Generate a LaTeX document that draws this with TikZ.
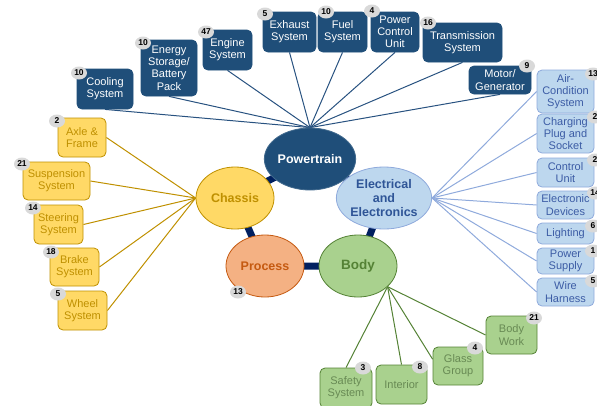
\documentclass[tikz,border=0pt]{standalone}
\usepackage{fontspec}
\setmainfont{Liberation Sans}
\usetikzlibrary{shapes.geometric,backgrounds}

\definecolor{ptblue}{RGB}{31,78,121}
\definecolor{ptline}{RGB}{40,82,128}
\definecolor{ringcol}{RGB}{0,32,96}
\definecolor{eefill}{RGB}{189,215,238}
\definecolor{eedraw}{RGB}{143,170,220}
\definecolor{eetext}{RGB}{47,85,151}
\definecolor{eeleaftext}{RGB}{60,92,165}
\definecolor{chfill}{RGB}{255,217,102}
\definecolor{chdraw}{RGB}{191,144,0}
\definecolor{chtext}{RGB}{191,144,0}
\definecolor{prfill}{RGB}{244,177,131}
\definecolor{prdraw}{RGB}{197,90,17}
\definecolor{prtext}{RGB}{197,90,17}
\definecolor{bdfill}{RGB}{169,209,142}
\definecolor{bddraw}{RGB}{84,130,53}
\definecolor{bdtext}{RGB}{84,130,53}
\definecolor{bdleaftext}{RGB}{104,138,84}
\definecolor{badgegray}{RGB}{217,217,217}

\begin{document}
\begin{tikzpicture}[x=1pt,y=-1pt,
  sz/.style 2 args={minimum width=#1pt, minimum height=#2pt},
  leaf/.style={rounded corners=5pt, align=center, inner sep=0pt,
    font=\fontsize{11}{12.2}\selectfont, line width=0.8pt},
  ptleaf/.style={leaf, fill=ptblue, draw=ptblue, text=white},
  eeleaf/.style={leaf, fill=eefill, draw=eedraw, text=eeleaftext},
  chleaf/.style={leaf, fill=chfill, draw=chdraw, text=chtext},
  bdleaf/.style={leaf, fill=bdfill, draw=bddraw, text=bdleaftext},
  hub/.style={ellipse, minimum width=78pt, minimum height=62pt, inner sep=0pt,
    align=center, font=\bfseries\fontsize{12.5}{14}\selectfont, line width=0.8pt},
  badge/.style={ellipse, fill=badgegray, minimum width=16pt, minimum height=13pt,
    inner sep=0pt, font=\bfseries\fontsize{8.5}{9}\selectfont},
  ring/.style={draw=ringcol, line width=7pt},
  ptlink/.style={draw=ptline, line width=1pt},
  eelink/.style={draw=eedraw, line width=1pt},
  chlink/.style={draw=chdraw, line width=1pt},
  bdlink/.style={draw=bddraw, line width=1pt},
]
\useasboundingbox (0,0) rectangle (597,405);

% central categories
\node[hub, fill=ptblue, draw=ptblue!85!white, text=white] (pt) at (310,159) {Powertrain};
\node[hub, fill=eefill, draw=eedraw, text=eetext] (ee) at (384,198) {Electrical\\and\\Electronics};
\node[hub, fill=chfill, draw=chdraw, text=chtext] (ch) at (235,198) {Chassis};
\node[hub, fill=prfill, draw=prdraw, text=prtext] (pr) at (265,266) {Process};
\node[hub, fill=bdfill, draw=bddraw, text=bdtext, font=\bfseries\fontsize{13.5}{15}\selectfont] (bd) at (358,266) {Body};

% powertrain subsystems
\node[ptleaf, sz={56}{40}] (cool) at (105,89) {Cooling\\System};
\node[ptleaf, sz={56}{56}] (energy) at (169,68) {Energy\\Storage/\\Battery\\Pack};
\node[ptleaf, sz={49}{40}] (engine) at (227.5,50) {Engine\\System};
\node[ptleaf, sz={53}{40}] (exhaust) at (289.5,32) {Exhaust\\System};
\node[ptleaf, sz={49}{40}] (fuel) at (342.5,32) {Fuel\\System};
\node[ptleaf, sz={48}{40}] (pcu) at (395,32) {Power\\Control\\Unit};
\node[ptleaf, sz={79}{39}] (trans) at (462.5,42.5) {Transmission\\System};
\node[ptleaf, sz={62}{28}] (motor) at (500,80) {Motor/\\Generator};

% electrical subsystems
\node[eeleaf, sz={57}{43}] (air) at (565.5,91.5) {Air-\\Condition\\System};
\node[eeleaf, sz={57}{39}] (charge) at (565.5,133.5) {Charging\\Plug and\\Socket};
\node[eeleaf, sz={57}{29}] (ctrl) at (565.5,172.5) {Control\\Unit};
\node[eeleaf, sz={57}{28}] (elec) at (565.5,205) {Electronic\\Devices};
\node[eeleaf, sz={57}{21}] (light) at (565.5,233.5) {Lighting};
\node[eeleaf, sz={57}{26}] (power) at (565.5,261) {Power\\Supply};
\node[eeleaf, sz={57}{28}] (wire) at (565.5,292) {Wire\\Harness};

% chassis subsystems
\node[chleaf, sz={48}{39}] (axle) at (82,137.5) {Axle \&\\Frame};
\node[chleaf, sz={67}{38}] (susp) at (56.5,181) {Suspension\\System};
\node[chleaf, sz={49}{39}] (steer) at (58.5,224.5) {Steering\\System};
\node[chleaf, sz={49}{38}] (brake) at (74.5,267) {Brake\\System};
\node[chleaf, sz={49}{39}] (wheel) at (82.5,310.5) {Wheel\\System};

% body subsystems
\node[bdleaf, sz={52}{40}] (safety) at (346,388) {Safety\\System};
\node[bdleaf, sz={51}{39}] (interior) at (401.5,384.5) {Interior};
\node[bdleaf, sz={50}{38}] (glass) at (458,366) {Glass\\Group};
\node[bdleaf, sz={51}{38}] (bodywork) at (511.5,335) {Body\\Work};

% counts
\node[badge] (bcool) at (79,73) {10};
\node[badge] (benergy) at (143,43) {10};
\node[badge] (bengine) at (206,32) {47};
\node[badge] (bexhaust) at (265,14) {5};
\node[badge] (bfuel) at (326,12) {10};
\node[badge] (bpcu) at (372,11) {4};
\node[badge] (btrans) at (428,23) {16};
\node[badge] (bmotor) at (527,66) {9};

\node[badge] (bair) at (593,74) {13};
\node[badge] (bcharge) at (595,117) {2};
\node[badge] (bctrl) at (595,160) {2};
\node[badge] (belec) at (595,193) {14};
\node[badge] (blight) at (593,226) {6};
\node[badge] (bpower) at (593,251) {1};
\node[badge] (bwire) at (593,281) {5};

\node[badge] (baxle) at (57,121) {2};
\node[badge] (bsusp) at (22,164) {21};
\node[badge] (bsteer) at (33,208) {14};
\node[badge] (bbrake) at (51,252) {18};
\node[badge] (bwheel) at (58,294) {5};

\node[badge] (bsafety) at (363,368) {3};
\node[badge] (binterior) at (420,367) {8};
\node[badge] (bglass) at (475,348) {4};
\node[badge] (bbodywork) at (534,318) {21};

\node[badge] (bproc) at (238,292) {13};

\begin{scope}[on background layer]
  % ring joining the categories
  \draw[ring] (pt.center) -- (ee.center) -- (bd.center) -- (pr.center) -- (ch.center) -- cycle;
  % spokes
  \foreach \n in {cool,energy,engine,exhaust,fuel,pcu,trans,motor}
    \draw[ptlink] (\n.south) -- (pt.north);
  \foreach \n in {air,charge,ctrl,elec,light,power,wire}
    \draw[eelink] (\n.west) -- (ee.east);
  \foreach \n in {axle,susp,steer,brake,wheel}
    \draw[chlink] (\n.east) -- (ch.west);
  \draw[bdlink] (safety.north) -- (bd.-35);
  \draw[bdlink] (interior.north) -- (bd.-35);
  \draw[bdlink] (glass.165) -- (bd.-35);
  \draw[bdlink] (bodywork.west) -- (bd.-35);
\end{scope}
\end{tikzpicture}
\end{document}
